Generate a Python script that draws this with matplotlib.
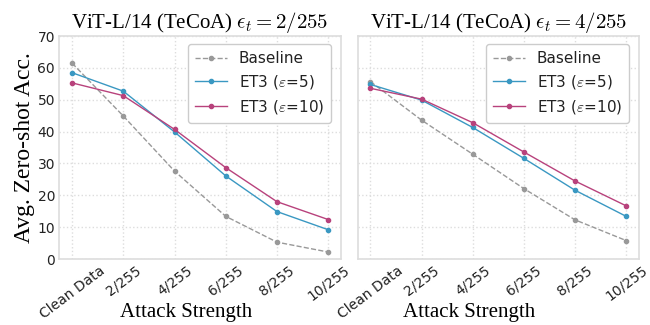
import matplotlib
matplotlib.use("Agg")
import matplotlib.pyplot as plt
import numpy as np

categories = ["Clean Data", "2/255", "4/255", "6/255", "8/255", "10/255"]
titles = [r"ViT-L/14 (TeCoA) $\epsilon_t=2/255$", r"ViT-L/14 (TeCoA) $\epsilon_t=4/255$"]

left_baseline = [61.5, 44.9, 27.6, 13.4, 5.3, 2.2]
left_et3_5 = [58.5, 52.7, 39.9, 26.1, 14.9, 9.2]
left_et3_10 = [55.3, 51.3, 40.7, 28.7, 18.0, 12.4]

right_baseline = [55.7, 43.6, 32.9, 22.1, 12.3, 5.8]
right_et3_5 = [54.8, 49.9, 41.3, 31.6, 21.6, 13.4]
right_et3_10 = [53.6, 50.2, 42.8, 33.6, 24.5, 16.7]

series_labels = ["Baseline", r"ET3 ($\varepsilon$=5)", r"ET3 ($\varepsilon$=10)"]
colors = ["#999999", "#3a98c2", "#b8427c"]
styles = ["--", "-", "-"]

plt.rcParams["mathtext.fontset"] = "cm"

fig = plt.figure(figsize=(6.5, 3.25), dpi=100)
ax1 = fig.add_axes([0.0912, 0.203, 0.4334, 0.686])
ax2 = fig.add_axes([0.5503, 0.203, 0.4327, 0.686], sharey=ax1)

data = [(left_baseline, left_et3_5, left_et3_10), (right_baseline, right_et3_5, right_et3_10)]
x = np.arange(len(categories))
serif = "Liberation Serif"
xlabel_x = [0.45, 0.396]

for i, (ax, series) in enumerate(zip([ax1, ax2], data)):
    for vals, lab, c, ls in zip(series, series_labels, colors, styles):
        ax.plot(x, vals, ls, color=c, marker="o", markersize=3, linewidth=1.0, label=lab)
    ax.set_xlim(-0.25, 5.25)
    ax.set_ylim(0, 70)
    ax.set_yticks(np.arange(0, 71, 10))
    ax.set_xticks(x)
    ax.set_xticklabels(categories, rotation=37, ha="center", fontsize=10, color="#222222")
    ax.tick_params(axis="both", length=0, labelsize=10, labelcolor="#222222", pad=3)
    ax.grid(True, linestyle=":", color="#dddddd", linewidth=1.0)
    ax.set_axisbelow(True)
    for s in ax.spines.values():
        s.set_color("#dddddd")
        s.set_linewidth(1.2)
    ax.set_title(titles[i], fontsize=15, family=serif, pad=6)
    ax.set_xlabel("Attack Strength", fontsize=15, family=serif)
    ax.xaxis.set_label_coords(xlabel_x[i], -0.195)
    leg = ax.legend(loc="upper right", bbox_to_anchor=(0.965, 0.964), borderaxespad=0,
                    fontsize=11, frameon=True, fancybox=True,
                    edgecolor="#cccccc", framealpha=1.0, handlelength=2.1,
                    borderpad=0.45, labelspacing=0.45)
    leg.get_frame().set_linewidth(1.0)
    for t in leg.get_texts():
        t.set_color("#222222")

ax1.set_ylabel("Avg. Zero-shot Acc.", fontsize=17, family=serif, labelpad=2)
plt.setp(ax2.get_yticklabels(), visible=False)

fig.savefig("out.png", dpi=100)
